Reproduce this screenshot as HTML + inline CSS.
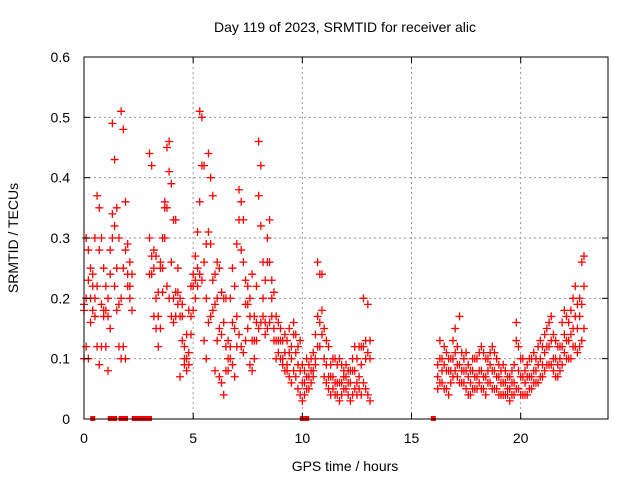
<!DOCTYPE html>
<html><head><meta charset="utf-8"><style>
body{margin:0;background:#fff;}
svg text{font-family:"Liberation Sans",sans-serif;font-size:14px;fill:#000;}
</style></head><body>
<svg id="chart" width="640" height="480" xmlns="http://www.w3.org/2000/svg">
<rect width="640" height="480" fill="#fff"/>
<g id="grid"></g>
<g id="marks"></g>
<rect x="84" y="57" width="524" height="362" fill="none" stroke="#000" stroke-width="1"/>
<g id="axes"></g>
<text x="345" y="32" text-anchor="middle">Day 119 of 2023, SRMTID for receiver alic</text>
<text x="345" y="471" text-anchor="middle">GPS time / hours</text>
<text transform="translate(18,238) rotate(-90)" text-anchor="middle">SRMTID / TECUs</text>
</svg>
<script>
const xTicks=[0,5,10,15,20];
const yTicks=[0,0.1,0.2,0.3,0.4,0.5,0.6];
const yTickLabels=["0","0.1","0.2","0.3","0.4","0.5","0.6"];
const seg1Start=0.0, seg2Start=16.2;
const seriesA1=[.19,.30,.28,.25,.22,.30,.37,.35,.30,.25, .22,.20,.28,.49,.43,.35,.30,.51,.48,.36, .29,.26,.24,null,null,null,null,null,null,null, .44,.42,.28,.27,.21,.26,.30,.36,.45,.46, .39,.33,.33,.25,.20,.19,.12,.14,.18,.22, .24,.27,.31,.51,.50,.42,.29,.44,.40,.37, .24,.26,.25,.21,.20,.20,.13,.20,.25,.22, .29,.38,.36,.33,.23,.22,.20,.24,.17,.22, .46,.42,.26,.23,.30,.33,.23,.21,.17,.16, .15,.13,.14,.13,.15,.12,.16,.14,.12,.13, .09,.08,.10,.09,.10,.11,.14,.26,.24,.24, .15,.13,.12,.09,.10,.10,.09,.10,.09,.08, .09,.08,.08,.10,.12,.10,.12,.12,.20,.13, .19,.13];
const seriesB1=[.18,.20,.23,.20,.24,.20,.22,.28,.19,.18, .18,.17,.24,.34,.32,.25,.19,.20,.25,.28, .24,.22,.18,null,null,null,null,null,null,null, .30,.27,.25,.20,.17,.25,.25,.35,.35,.41, .26,.20,.21,.21,.17,.17,.10,.10,.11,.17, .22,.23,.25,.36,.42,.26,.20,.31,.29,.23, .19,.20,.15,.14,.16,.12,.10,.12,.16,.15, .17,.33,.28,.26,.19,.19,.17,.13,.13,.16, .37,.32,.20,.16,.26,.26,.20,.15,.13,.13, .13,.10,.11,.09,.11,.10,.14,.11,.09,.08, .06,.06,.07,.07,.08,.08,.10,.17,.16,.18, .10,.09,.07,.07,.07,.06,.06,.06,.06,.07, .07,.06,.06,.08,.08,.06,.07,.09,.12,.10, .11,.10];
const seriesC1=[.10,.12,.10,.16,.18,.17,.12,.09,.12,.17, .12,.08,.15,.30,.22,.18,.12,.10,.12,.10, .22,.20,null,null,null,null,null,null,null,null, .24,.24,.17,.15,.12,.15,.21,.30,.22,.20, .17,.16,.17,.19,.07,.13,.09,.08,.09,.14, .18,.20,.22,.24,.23,.13,.10,.16,.17,.18, .08,.13,.07,.06,.04,.08,.08,.10,.09,.07, .12,.14,.12,.11,.13,.15,.09,.08,.10,.13, .15,.16,.17,.14,.15,.16,.17,.13,.10,.11, .10,.09,.08,.08,.07,.06,.08,.07,.05,.04, .03,.04,.05,.05,.06,.07,.09,.12,.12,.14, .07,.06,.05,.04,.05,.04,.04,.03,.04,.05, .05,.04,.03,.04,.05,.04,.05,.04,.06,.05, .04,.03];
const seriesA2=[.09,.13,.10,.12,.11,.10,.10,.13,.15,.12, .17,.11,.10,.11,.09,.08,.10,.10,.10,.11, .12,.11,.10,.10,.11,.12,.11,.10,.09,.08, .09,.08,.07,.07,.08,.09,.16,.12,.10,.10, .08,.09,.10,.10,.11,.10,.12,.13,.12,.14, .15,.16,.17,.14,.13,.12,.12,.16,.18,.17, .16,.18,.20,.22,.19,.20,.26,.27];
const seriesB2=[.07,.10,.08,.09,.08,.08,.08,.10,.11,.09, .09,.08,.08,.08,.07,.06,.08,.07,.07,.08, .08,.07,.07,.08,.09,.08,.08,.07,.07,.06, .06,.06,.05,.05,.06,.06,.13,.08,.07,.07, .06,.07,.07,.07,.08,.08,.09,.10,.09,.11, .12,.12,.13,.10,.10,.09,.10,.12,.14,.13, .13,.14,.15,.17,.15,.17,.19,.22];
const seriesC2=[.05,.06,.06,.05,.05,.04,.06,.07,.08,.07, .06,.06,.06,.05,.04,.04,.05,.05,.05,.06, .05,.05,.04,.06,.06,.05,.05,.05,.04,.04, .04,.04,.04,.03,.04,.04,.05,.05,.04,.04, .04,.04,.05,.05,.06,.06,.06,.07,.07,.08, .09,.09,.09,.08,.07,.07,.08,.09,.11,.10, .10,.10,.12,.12,.11,.12,.13,.15];
const zeroTimes=[0.4,1.2,1.3,1.4,1.7,1.8,1.9,2.3,2.4,2.5,2.6,2.7,2.8,2.9,3.0,10.0,10.2,16.0];
const X0=84,X1=608,Y0=419,Y1=57,XMAX=24,YMAX=0.6;
const xs=t=>X0+(X1-X0)*t/XMAX;
const ys=v=>Y0-(Y0-Y1)*v/YMAX;
const NS="http://www.w3.org/2000/svg";
const grid=document.getElementById('grid'),axes=document.getElementById('axes'),marks=document.getElementById('marks');
function mk(tag,attrs,parent){const e=document.createElementNS(NS,tag);for(const k in attrs)e.setAttribute(k,attrs[k]);parent.appendChild(e);return e;}
xTicks.forEach(t=>{
  const x=xs(t);
  if(t>0){const g=mk('line',{x1:x,x2:x,y1:Y1,y2:Y0,stroke:'#999','stroke-dasharray':'2,3'},grid);
  
  }
  const a=mk('line',{x1:x,x2:x,y1:Y0,y2:Y0-6,stroke:'#000'},axes);
  
  
  mk('line',{x1:x,x2:x,y1:Y1,y2:Y1+6,stroke:'#000'},axes);
  const l=mk('text',{x:x,y:Y0+24,'text-anchor':'middle'},axes);l.textContent=String(t);
  
  
});
yTicks.forEach((v,i)=>{
  const y=ys(v);
  if(v>0&&v<YMAX){const g=mk('line',{x1:X0,x2:X1,y1:y,y2:y,stroke:'#999','stroke-dasharray':'2,3'},grid);
  
  }
  const a=mk('line',{x1:X0,x2:X0+6,y1:y,y2:y,stroke:'#000'},axes);
  
  
  mk('line',{x1:X1,x2:X1-6,y1:y,y2:y,stroke:'#000'},axes);
  const l=mk('text',{x:X0-14,y:y+5,'text-anchor':'end'},axes);l.textContent=yTickLabels[i];
  
  
});
function plus(t,v){
  const x=xs(t),y=ys(v);
  const p=mk('path',{d:`M${x-4},${y}h8M${x},${y-4}v8`,stroke:'#f00','stroke-width':1.3,fill:'none'},marks);
  
  
}
function drawSeries(start,arr){arr.forEach((v,i)=>{if(v!==null)plus(start+i*0.1,v);});}
[seriesA1,seriesB1,seriesC1].forEach(a=>drawSeries(seg1Start,a));
[seriesA2,seriesB2,seriesC2].forEach(a=>drawSeries(seg2Start,a));
zeroTimes.forEach(t=>{
  const r=mk('rect',{x:xs(t)-2.5,y:Y0-3,width:5,height:5,fill:'#f00'},marks);
  
  
});
</script>
</body></html>
